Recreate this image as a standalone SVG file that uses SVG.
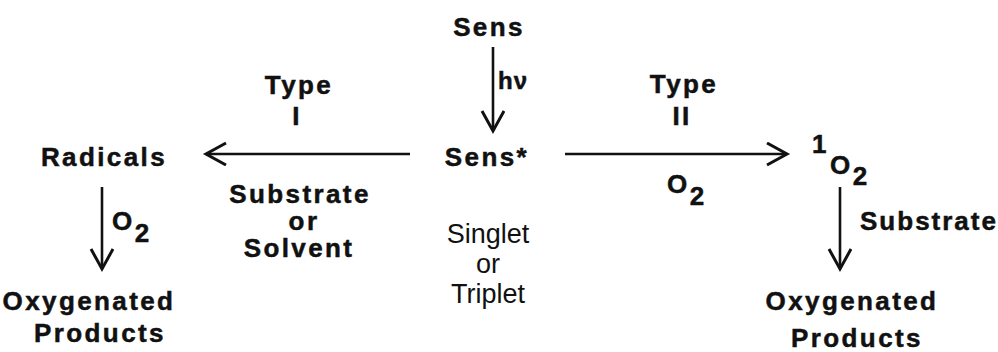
<svg xmlns="http://www.w3.org/2000/svg" width="998" height="352" viewBox="0 0 998 352">
  <style>
    .b { font-family: "Liberation Sans", Arial, sans-serif; font-weight: bold; font-size: 26px; letter-spacing: 2.4px; fill: #111; stroke: #111; stroke-width: 0.5; }
    .r { font-family: "Liberation Sans", Arial, sans-serif; font-size: 27px; fill: #111; }
    .m { text-anchor: middle; }
    .arrow { stroke: #111; stroke-width: 2.6; fill: none; marker-end: url(#head); }
  </style>
  <defs>
    <marker id="head" markerUnits="userSpaceOnUse" markerWidth="26" markerHeight="28" refX="22" refY="12" orient="auto">
      <path d="M2,1 L22,12 L2,23" fill="none" stroke="#111" stroke-width="3" stroke-linejoin="miter"/>
    </marker>
  </defs>
  <rect width="998" height="352" fill="#fff"/>

  <g id="connectors">
    <line class="arrow" x1="493" y1="47" x2="493" y2="131"/>
    <line class="arrow" x1="410" y1="154" x2="206" y2="154"/>
    <line class="arrow" x1="565" y1="154" x2="787" y2="154"/>
    <line class="arrow" x1="102" y1="187" x2="102" y2="269"/>
    <line class="arrow" x1="840" y1="187" x2="840" y2="269"/>
  </g>

  <g id="sens">
    <text class="b m" x="489" y="36">Sens</text>
  </g>
  <g id="hv-label">
    <text class="b" x="498" y="89" style="font-size:24px;letter-spacing:1px">hν</text>
  </g>
  <g id="sens-excited">
    <text class="b m" x="487" y="166">Sens*</text>
    <text class="r m" x="488" y="243">Singlet</text>
    <text class="r m" x="488" y="273">or</text>
    <text class="r m" x="488" y="303">Triplet</text>
  </g>

  <g id="type1-label">
    <text class="b m" x="299" y="94">Type</text>
    <text class="b m" x="297" y="125">I</text>
    <text class="b m" x="300" y="203">Substrate</text>
    <text class="b m" x="304" y="230">or</text>
    <text class="b m" x="299" y="257">Solvent</text>
  </g>

  <g id="radicals">
    <text class="b m" x="104" y="166">Radicals</text>
  </g>
  <g id="o2-left-label">
    <text class="b" x="112" y="230">O<tspan dy="12">2</tspan></text>
  </g>
  <g id="products-left">
    <text class="b m" x="89" y="310">Oxygenated</text>
    <text class="b m" x="100" y="342">Products</text>
  </g>

  <g id="type2-label">
    <text class="b m" x="684" y="93">Type</text>
    <text class="b m" x="682" y="125">II</text>
    <text class="b" x="667" y="193">O<tspan dy="12">2</tspan></text>
  </g>

  <g id="singlet-oxygen">
    <text class="b" x="812" y="153">1<tspan x="830" dy="21">O</tspan><tspan dy="11">2</tspan></text>
  </g>
  <g id="substrate-right-label">
    <text class="b m" x="929" y="230" style="letter-spacing:2px">Substrate</text>
  </g>
  <g id="products-right">
    <text class="b m" x="852" y="310">Oxygenated</text>
    <text class="b m" x="857" y="347">Products</text>
  </g>
</svg>
